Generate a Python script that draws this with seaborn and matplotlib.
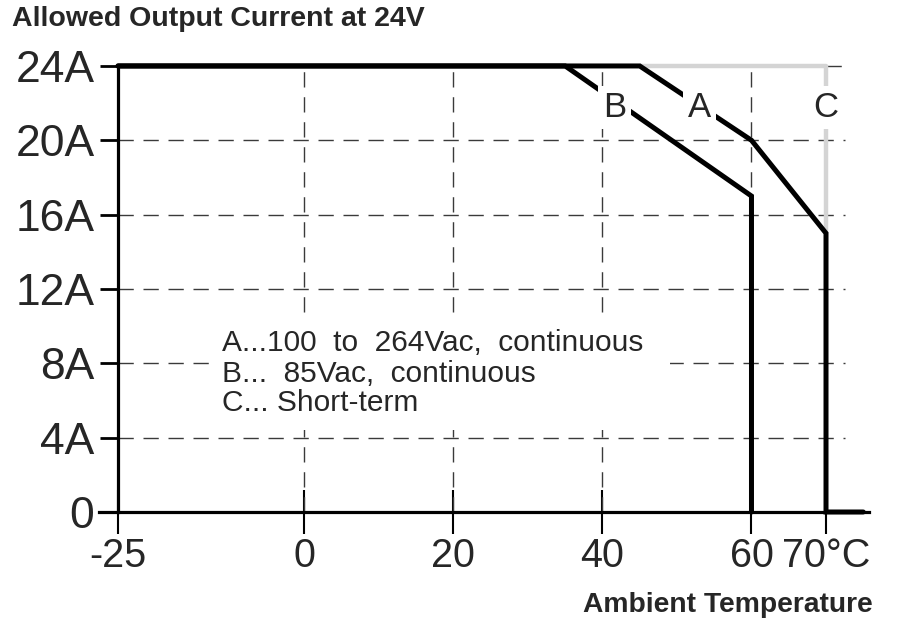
import matplotlib
matplotlib.use("Agg")
import matplotlib.pyplot as plt
from matplotlib.patches import Rectangle
import seaborn as sns
import pandas as pd

# ---- data ----
temp_A = [-25, 45, 60, 70, 70, 75]
cur_A = [24, 24, 20, 15, 0, 0]
temp_B = [-25, 35, 60, 60]
cur_B = [24, 24, 17, 0]
temp_C = [45, 70, 70]
cur_C = [24, 24, 15]

x_ticks = [-25, 0, 20, 40, 60, 70]
x_labels = ["-25", "0", "20", "40", "60", "70°C"]
y_ticks = [0, 4, 8, 12, 16, 20, 24]
y_labels = ["0", "4A", "8A", "12A", "16A", "20A", "24A"]
grid_y = [4, 8, 12, 16, 20]
grid_x = [0, 20, 40, 60]

legend_lines = ["A...100  to  264Vac,  continuous",
                "B...  85Vac,  continuous",
                "C... Short-term"]

sns.set_theme(style="white")
plt.rcParams["font.family"] = ["Liberation Sans", "DejaVu Sans"]

fig = plt.figure(figsize=(9.08, 6.25), dpi=100)
ax = fig.add_axes([0.1095, 0.1362, 0.8478, 0.788])

# grid
grid_kw = dict(color="#3a3a3a", lw=1.0, linestyles=(0, (11, 7)), zorder=1)
ax.hlines(grid_y, -25, 72.5, **grid_kw)
ax.hlines([24], 70, 72.5, **grid_kw)
ax.vlines(grid_x, 0, 24, **grid_kw)

dfA = pd.DataFrame({"t": temp_A, "i": cur_A})
dfB = pd.DataFrame({"t": temp_B, "i": cur_B})
dfC = pd.DataFrame({"t": temp_C, "i": cur_C})

sns.lineplot(data=dfC, x="t", y="i", sort=False, estimator=None, ax=ax,
             color="#d4d4d4", lw=3.2, zorder=2)
sns.lineplot(data=dfA, x="t", y="i", sort=False, estimator=None, ax=ax,
             color="black", lw=3.6, zorder=3, solid_joinstyle="miter")
sns.lineplot(data=dfB, x="t", y="i", sort=False, estimator=None, ax=ax,
             color="black", lw=3.6, zorder=3, solid_joinstyle="miter")

lab_kw = dict(fontsize=25, ha="center", va="center", zorder=5,
              bbox=dict(boxstyle="square,pad=0.15", fc="white", ec="none"))
ax.text(41.6, 21.75, "B", **lab_kw)
ax.text(53.0, 21.75, "A", **lab_kw)
ax.text(70.0, 21.75, "C", **lab_kw)

# white background behind the note block
ax.add_patch(Rectangle((-12.4, 4.4), 61.5, 5.95, fc="white", ec="none",
                       zorder=4))
for s, yy in zip(legend_lines, [9.1, 7.45, 5.88]):
    ax.text(-11.05, yy, s, fontsize=21.5, ha="left", va="center", zorder=5)

ax.set_xlim(-27.5, 75.8)
ax.set_ylim(-1.5, 25)
ax.set_xlabel("")
ax.set_ylabel("")

for side in ["top", "right"]:
    ax.spines[side].set_visible(False)
ax.spines["left"].set_position(("data", -25))
ax.spines["left"].set_bounds(0, 24)
ax.spines["left"].set_linewidth(2.3)
ax.spines["left"].set_color("black")
ax.spines["bottom"].set_position(("data", 0))
ax.spines["bottom"].set_linewidth(2.3)
ax.spines["bottom"].set_color("black")

ax.set_xticks(x_ticks)
ax.set_xticklabels(x_labels, fontsize=28.5)
ax.set_yticks(y_ticks)
ax.set_yticklabels(y_labels, fontsize=32)
ax.tick_params(axis="x", direction="inout", length=32, width=1.5,
               color="black", pad=2, bottom=True)
ax.tick_params(axis="y", direction="out", length=13, width=2.0,
               color="black", pad=4, left=True)

fig.text(0.013, 0.969, "Allowed Output Current at 24V", fontsize=20.5,
         fontweight="bold", ha="left", va="center")
fig.text(0.9615, 0.032, "Ambient Temperature", fontsize=20.3,
         fontweight="bold", ha="right", va="center")

fig.savefig("out.png", dpi=100, facecolor="white")
